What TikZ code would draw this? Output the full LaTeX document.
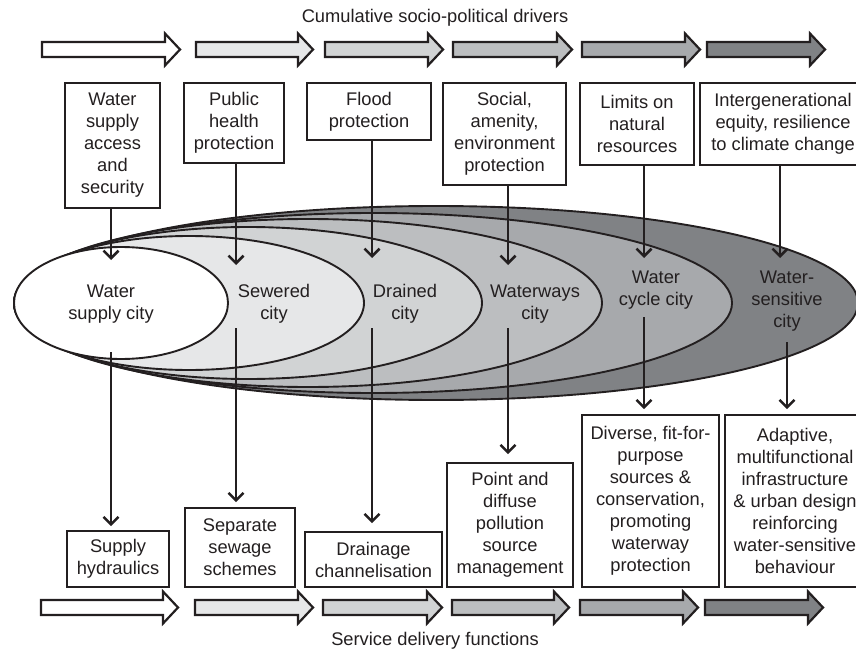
\documentclass[tikz,border=0pt]{standalone}
\usepackage{fontspec}
\setmainfont{Liberation Sans}
\usetikzlibrary{arrows.meta}
\definecolor{ink}{HTML}{231F20}
\definecolor{g1}{HTML}{E6E7E8}
\definecolor{g2}{HTML}{D1D3D4}
\definecolor{g3}{HTML}{BCBEC0}
\definecolor{g4}{HTML}{A7A9AC}
\definecolor{g5}{HTML}{808285}
\newcommand\blockarr[4]{%
  \draw[blk,fill=#4] ({#1},{#3-7.5}) -- ({#2-15},{#3-7.5}) -- ({#2-15},{#3-16}) -- ({#2},{#3}) -- ({#2-15},{#3+16}) -- ({#2-15},{#3+7.5}) -- ({#1},{#3+7.5}) -- cycle;}
\begin{document}
\begin{tikzpicture}[x=1pt,y=-1pt,
  every node/.style={font=\fontsize{18.3}{22}\selectfont, text=ink},
  box/.style={draw=ink, line width=1.6pt, fill=white, align=center, inner sep=0pt},
  lbl/.style={align=center, inner sep=0pt},
  conn/.style={draw=ink, line width=2.6pt, -{Straight Barb[length=7.5pt,width=15pt,line width=2.6pt]}},
  ell/.style={draw=ink, line width=1.9pt},
  blk/.style={draw=ink, line width=2.2pt}]
\useasboundingbox (0,0) rectangle (856,655);
\clip (0,0) rectangle (856,655);
\fill[white] (0,0) rectangle (856,655);

% titles
\node[lbl] (toptitle) at (435,18) {Cumulative socio-political drivers};
\node[lbl] (bottitle) at (435,641) {Service delivery functions};

% block arrows top
\blockarr{42}{180}{49.5}{white}
\blockarr{196}{313}{49.5}{g1}
\blockarr{325}{443}{49.5}{g2}
\blockarr{453}{572}{49.5}{g3}
\blockarr{582}{700}{49.5}{g4}
\blockarr{707}{825}{49.5}{g5}
% block arrows bottom
\blockarr{41}{178}{607.5}{white}
\blockarr{195}{313}{607.5}{g1}
\blockarr{323}{442}{607.5}{g2}
\blockarr{452}{569}{607.5}{g3}
\blockarr{580}{698}{607.5}{g4}
\blockarr{705}{823}{607.5}{g5}

% ellipses
\draw[ell, fill=g5] (436,303) ellipse [x radius=422pt, y radius=97pt];
\draw[ell, fill=g4] (373,303) ellipse [x radius=359pt, y radius=90pt];
\draw[ell, fill=g3] (308,303) ellipse [x radius=294pt, y radius=84pt];
\draw[ell, fill=g2] (248,303) ellipse [x radius=234pt, y radius=76pt];
\draw[ell, fill=g1] (189,303) ellipse [x radius=175pt, y radius=67pt];
\draw[ell, fill=white] (121,303) ellipse [x radius=107pt, y radius=56pt];

% city labels
\node[lbl] (c1) at (111,304) {Water\\supply city};
\node[lbl] (c2) at (274,304) {Sewered\\city};
\node[lbl] (c3) at (405,304) {Drained\\city};
\node[lbl] (c4) at (535,304) {Waterways\\city};
\node[lbl] (c5) at (656,290) {Water\\cycle city};
\node[lbl] (c6) at (787,301) {Water-\\sensitive\\city};

% top boxes
\node[box, minimum width=95pt, minimum height=125pt] (t1) at (112.5,145.5) {Water\\supply\\access\\and\\security};
\node[box, minimum width=100pt, minimum height=80pt] (t2) at (234,123) {Public\\health\\protection};
\node[box, minimum width=124pt, minimum height=57pt] (t3) at (369,111.5) {Flood\\protection};
\node[box, minimum width=123pt, minimum height=102pt] (t4) at (504.5,134) {Social,\\amenity,\\environment\\protection};
\node[box, minimum width=114pt, minimum height=82pt] (t5) at (637,124) {Limits on\\natural\\resources};
\node[box, minimum width=166pt, minimum height=82pt] (t6) at (783,124) {Intergenerational\\equity, resilience\\to climate change};

% bottom boxes
\node[box, minimum width=102pt, minimum height=56pt] (b1) at (118,559) {Supply\\hydraulics};
\node[box, minimum width=110pt, minimum height=79pt] (b2) at (240,547.5) {Separate\\sewage\\schemes};
\node[box, minimum width=137pt, minimum height=55pt] (b3) at (373.5,559.5) {Drainage\\channelisation};
\node[box, minimum width=126pt, minimum height=124pt] (b4) at (510,525) {Point and\\diffuse\\pollution\\source\\management};
\node[box, minimum width=137pt, minimum height=172pt] (b5) at (650.5,501) {Diverse, fit-for-\\purpose\\sources \&\\conservation,\\promoting\\waterway\\protection};
\node[box, minimum width=140pt, minimum height=172pt] (b6) at (795,501) {Adaptive,\\multifunctional\\infrastructure\\\& urban design\\reinforcing\\water-sensitive\\behaviour};

% connector end/start points
\coordinate (e1) at (111,260);
\coordinate (e2) at (236,265);
\coordinate (e3) at (372,258);
\coordinate (e4) at (508,265);
\coordinate (e5) at (644,258);
\coordinate (e6) at (780,258);
\coordinate (s1) at (111,352);
\coordinate (s2) at (236,328);
\coordinate (s3) at (372,328);
\coordinate (s4) at (508,328);
\coordinate (s5) at (644,317);
\coordinate (s6) at (787,342);

\draw[conn] (t1.south -| e1) -- (e1);
\draw[conn] (t2.south -| e2) -- (e2);
\draw[conn] (t3.south -| e3) -- (e3);
\draw[conn] (t4.south -| e4) -- (e4);
\draw[conn] (t5.south -| e5) -- (e5);
\draw[conn] (t6.south -| e6) -- (e6);

\draw[conn, shorten >=4pt] (s1) -- (b1.north -| s1);
\draw[conn, shorten >=5pt] (s2) -- (b2.north -| s2);
\draw[conn, shorten >=8pt] (s3) -- (b3.north -| s3);
\draw[conn, shorten >=8pt] (s4) -- (b4.north -| s4);
\draw[conn, shorten >=5pt] (s5) -- (b5.north -| s5);
\draw[conn, shorten >=5pt] (s6) -- (b6.north -| s6);
\end{tikzpicture}
\end{document}
